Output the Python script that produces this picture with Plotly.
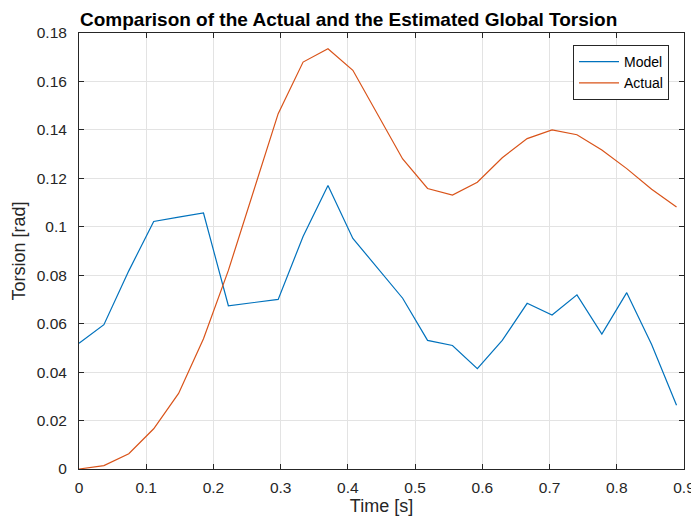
import plotly.graph_objects as go

# Time samples (s)
time_s = [k / 27 for k in range(25)]
model = [0.0519, 0.0596, 0.0818, 0.1022, 0.1040, 0.1057, 0.0674, 0.0687, 0.0700,
         0.0960, 0.1170, 0.0952, 0.0830, 0.0705, 0.0531, 0.0510, 0.0414, 0.0531,
         0.0684, 0.0636, 0.0719, 0.0557, 0.0728, 0.0514, 0.0263]
actual = [0.0000, 0.0014, 0.0063, 0.0166, 0.0312, 0.0538, 0.0820, 0.1140, 0.1467,
          0.1680, 0.1735, 0.1646, 0.1460, 0.1280, 0.1158, 0.1131, 0.1184, 0.1285,
          0.1364, 0.1400, 0.1380, 0.1317, 0.1240, 0.1155, 0.1082]
x_ticks = [0, 0.1, 0.2, 0.3, 0.4, 0.5, 0.6, 0.7, 0.8, 0.9]
x_labels = ["0", "0.1", "0.2", "0.3", "0.4", "0.5", "0.6", "0.7", "0.8", "0.9"]
y_ticks = [0, 0.02, 0.04, 0.06, 0.08, 0.1, 0.12, 0.14, 0.16, 0.18]
y_labels = ["0", "0.02", "0.04", "0.06", "0.08", "0.1", "0.12", "0.14", "0.16", "0.18"]

FONT = "Liberation Sans, Arial, Helvetica, sans-serif"
AXC = "#262626"
EPS = 1e-9

fig = go.Figure()
fig.add_trace(go.Scatter(x=time_s, y=model, mode="lines", name="Model",
                         line=dict(color="#0072BD", width=1.2)))
fig.add_trace(go.Scatter(x=time_s, y=actual, mode="lines", name="Actual",
                         line=dict(color="#D95319", width=1.2)))

axis_common = dict(showline=True, linecolor=AXC, linewidth=1, mirror="ticks",
                   ticks="inside", ticklen=5, tickcolor=AXC, tickwidth=1,
                   showgrid=True, gridcolor="#E3E3E3", gridwidth=1,
                   zeroline=False, ticklabeloverflow="allow", automargin=False,
                   tickfont=dict(family=FONT, size=15.5, color=AXC))

fig.update_layout(
    width=691, height=519,
    margin=dict(l=79, r=7, t=33, b=50, autoexpand=False),
    paper_bgcolor="white", plot_bgcolor="white",
    font=dict(family=FONT, color=AXC),
    title=dict(text="<b>Comparison of the Actual and the Estimated Global Torsion</b>",
               x=80 / 691, xanchor="left", y=1 - 19 / 519, yanchor="middle",
               font=dict(family=FONT, size=19, color="black")),
    xaxis=dict(range=[0 - EPS, 0.9 + EPS], tickvals=x_ticks, ticktext=x_labels,
               ticklabelstandoff=4,
               title=dict(text="Time [s]", font=dict(family=FONT, size=18, color=AXC), standoff=4),
               **axis_common),
    yaxis=dict(range=[0 - EPS, 0.18 + EPS], tickvals=y_ticks, ticktext=y_labels,
               ticklabelstandoff=8,
               title=dict(text="Torsion [rad]", font=dict(family=FONT, size=18, color=AXC), standoff=6),
               **axis_common),
    legend=dict(x=(669 - 79) / 605, xanchor="right", y=(469 - 45) / 436, yanchor="top",
                bgcolor="white", bordercolor=AXC, borderwidth=1,
                font=dict(family=FONT, size=14, color="black"),
                tracegroupgap=0, itemwidth=40, entrywidth=62),
    showlegend=True,
)

fig.write_html("out.html")
